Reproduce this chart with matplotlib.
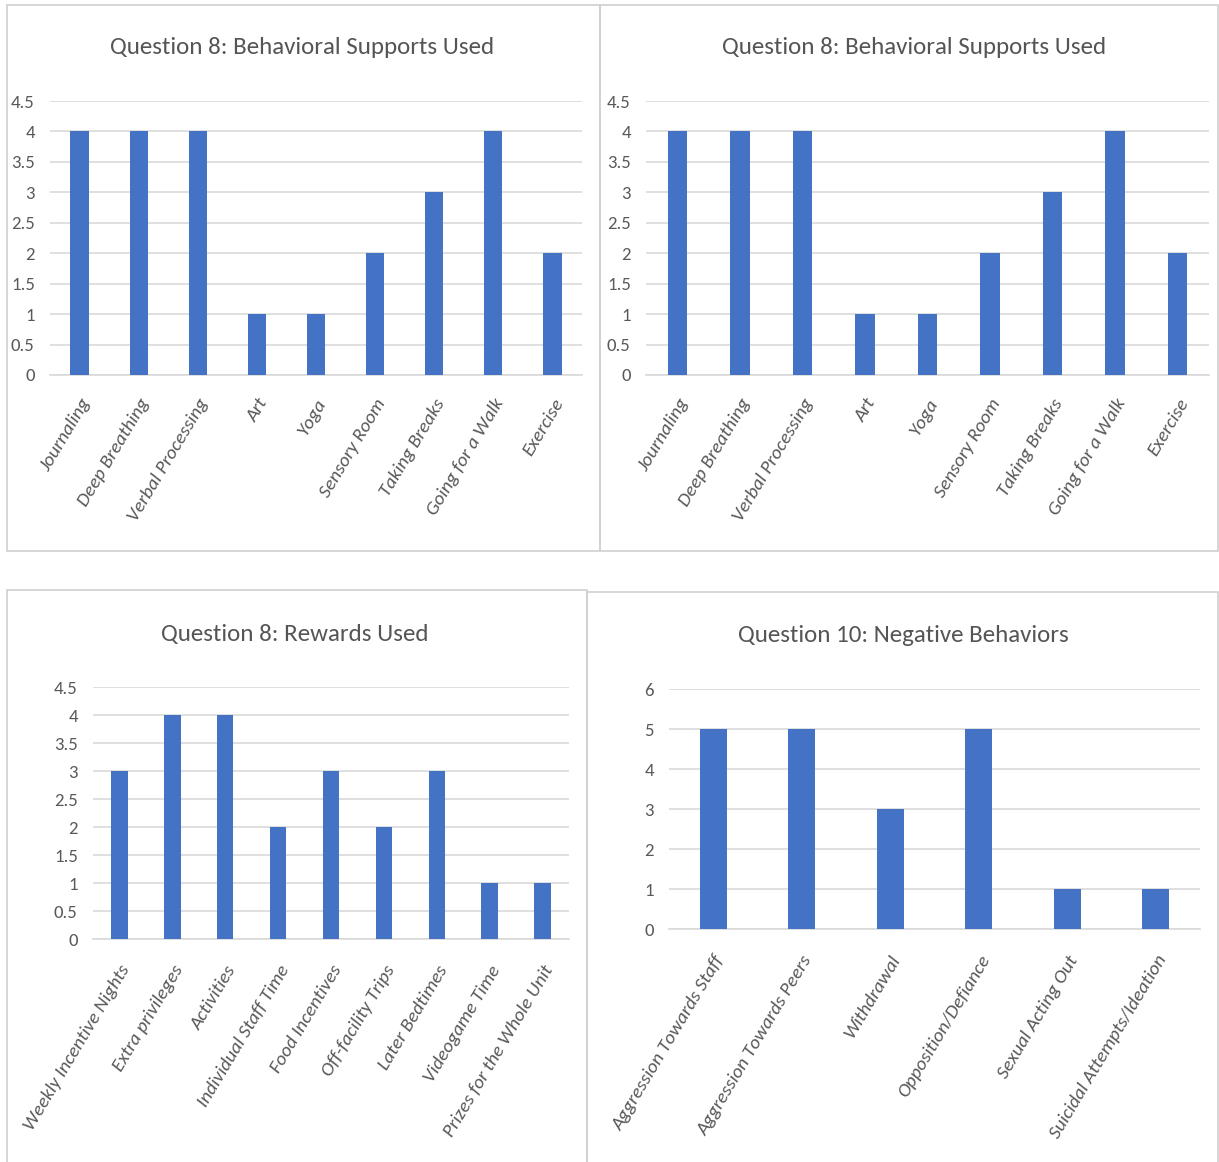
import matplotlib
matplotlib.use("Agg")
import matplotlib.pyplot as plt
from matplotlib.patches import Rectangle

supports_labels = ["Journaling", "Deep Breathing", "Verbal Processing", "Art", "Yoga",
                   "Sensory Room", "Taking Breaks", "Going for a Walk", "Exercise"]
supports_values = [4, 4, 4, 1, 1, 2, 3, 4, 2]

rewards_labels = ["Weekly Incentive Nights", "Extra privileges", "Activities",
                  "Individual Staff Time", "Food Incentives", "Off-facility Trips",
                  "Later Bedtimes", "Videogame Time", "Prizes for the Whole Unit"]
rewards_values = [3, 4, 4, 2, 3, 2, 3, 1, 1]

negative_labels = ["Aggression Towards Staff", "Aggression Towards Peers", "Withdrawal",
                   "Opposition/Defiance", "Sexual Acting Out", "Suicidal Attempts/Ideation"]
negative_values = [5, 5, 3, 5, 1, 1]

title_supports = "Question 8: Behavioral Supports Used"
title_rewards = "Question 8: Rewards Used"
title_negative = "Question 10: Negative Behaviors"

W, H = 1219, 1162
fig = plt.figure(figsize=(W / 100, H / 100), dpi=100)
fig.patch.set_facecolor("white")

FONT = ["Carlito", "DejaVu Sans"]
BAR = "#4472C4"
GRID = "#d9d9d9"
TXT = "#595959"
TITLE = "#555555"


def px_axes(left, right, top, bottom):
    return fig.add_axes([left / W, 1 - bottom / H, (right - left) / W, (bottom - top) / H])


def border(x0, y0, x1, y1):
    fig.patches.append(Rectangle((x0 / W, 1 - y1 / H), (x1 - x0) / W, (y1 - y0) / H,
                                 transform=fig.transFigure, fill=False,
                                 edgecolor="#d0d0d0", linewidth=1.2))


def fmt_half(t):
    return str(int(t)) if abs(t - round(t)) < 1e-9 else f"{t:.1f}"


def panel(ax, labels, values, ymax, ystep, xpad):
    x = list(range(len(labels)))
    ax.bar(x, values, width=0.31, color=BAR, zorder=3)
    ax.set_xlim(-0.5, len(labels) - 0.5)
    ax.set_ylim(0, ymax)
    ticks = []
    v = 0.0
    while v <= ymax + 1e-9:
        ticks.append(v)
        v += ystep
    ax.set_yticks(ticks)
    ax.set_yticklabels([fmt_half(t) for t in ticks], fontsize=13.5, color=TXT, family=FONT)
    ax.set_xticks(x)
    ax.set_xticklabels(labels, rotation=59, ha="right", rotation_mode="anchor",
                       fontsize=14, color=TXT, family=FONT, style="italic")
    ax.tick_params(axis="both", length=0)
    ax.tick_params(axis="y", pad=11)
    ax.tick_params(axis="x", pad=xpad)
    ax.grid(axis="y", color=GRID, linewidth=1.2, zorder=0)
    for s in ["top", "right", "left"]:
        ax.spines[s].set_visible(False)
    ax.spines["bottom"].set_color(GRID)
    ax.spines["bottom"].set_linewidth(1.2)
    ax.set_facecolor("none")


border(7, 5, 600, 551)
border(600, 5, 1218, 551)
border(7, 590, 587, 1170)
border(587, 592, 1218, 1170)

ax1 = px_axes(50, 582, 101, 375)
panel(ax1, supports_labels, supports_values, 4.5, 0.5, 15)
fig.text(302 / W, 1 - 48 / H, title_supports, ha="center", va="center",
         fontsize=18, color=TITLE, family=FONT)

ax2 = px_axes(646, 1209, 101, 375)
panel(ax2, supports_labels, supports_values, 4.5, 0.5, 15)
fig.text(914 / W, 1 - 48 / H, title_supports, ha="center", va="center",
         fontsize=18, color=TITLE, family=FONT)

ax3 = px_axes(93, 569, 687, 939)
panel(ax3, rewards_labels, rewards_values, 4.5, 0.5, 17)
fig.text(295 / W, 1 - 635 / H, title_rewards, ha="center", va="center",
         fontsize=18, color=TITLE, family=FONT)

ax4 = px_axes(669, 1200, 689, 929)
panel(ax4, negative_labels, negative_values, 6, 1, 17)
fig.text(903 / W, 1 - 636 / H, title_negative, ha="center", va="center",
         fontsize=18, color=TITLE, family=FONT)

fig.savefig("out.png", dpi=100, facecolor="white")
